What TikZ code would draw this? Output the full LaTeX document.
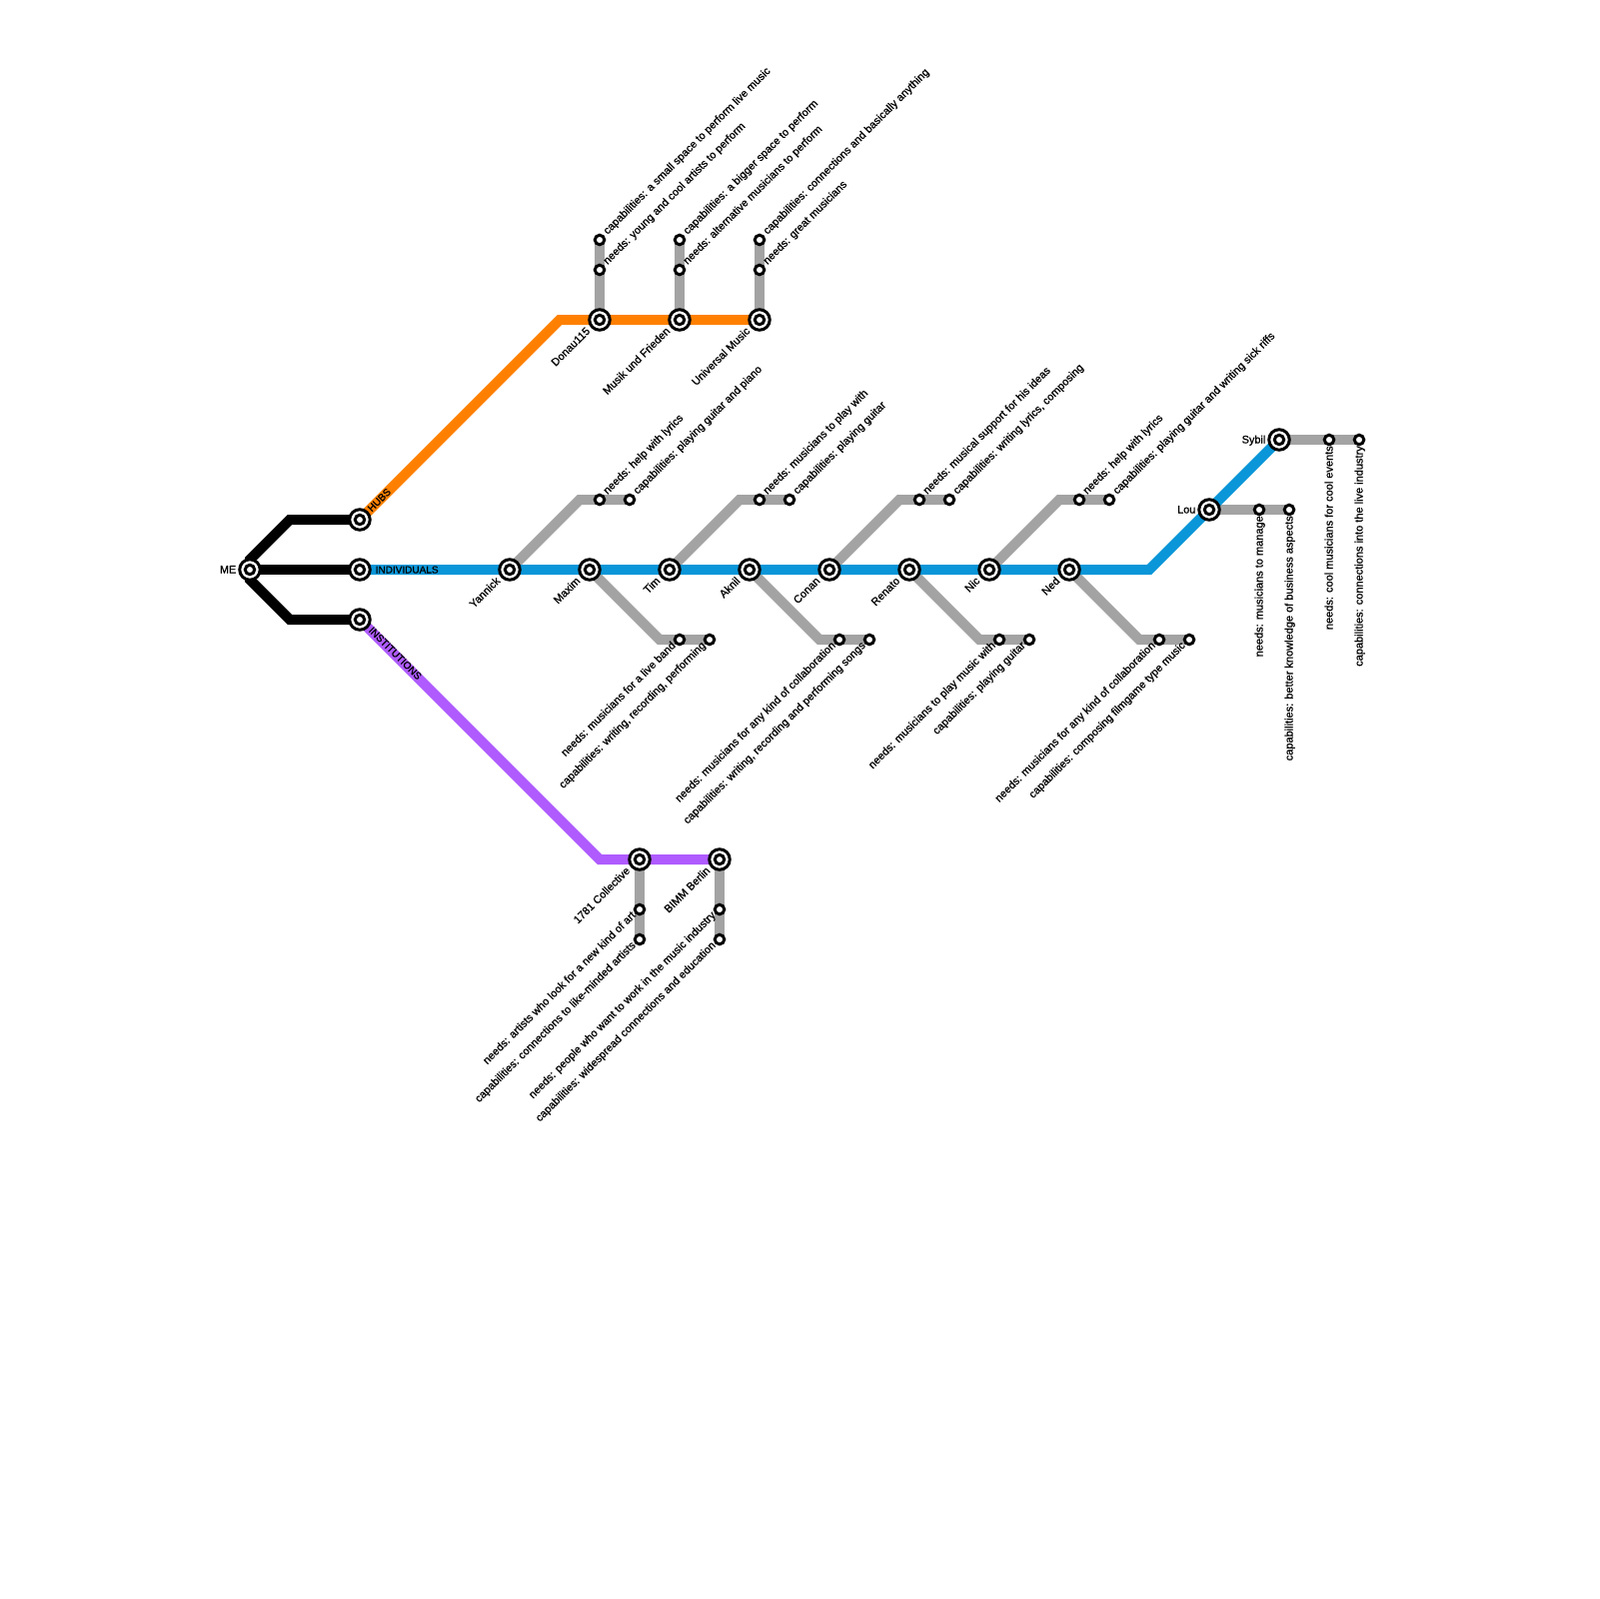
\documentclass[tikz,border=0pt]{standalone}
\usepackage{fontspec}
\setmainfont[FakeBold=0.8]{Liberation Sans}
\usetikzlibrary{backgrounds}
\tikzset{
  station/.style={circle,draw=black,fill=white,line width=0.3mm,minimum size=2.05mm,inner sep=0pt,outer sep=0pt,
    path picture={\draw[line width=0.3mm] (path picture bounding box.center) circle (0.47mm);}},
  substop/.style={circle,draw=black,fill=white,line width=0.3mm,minimum size=0.95mm,inner sep=0pt,outer sep=0pt},
  railline/.style={line width=1mm,miter limit=10},
  greyline/.style={railline,draw=railgrey},
  txt/.style={inner sep=0pt,text=black,font=\fontsize{3.1}{3.5}\selectfont},
  capslabel/.style={txt,font=\fontsize{2.85}{3.5}\selectfont},
  uplabel/.style={txt,anchor=base west,xshift=0.75mm,yshift=0.45mm,rotate=45},
  downlabel/.style={txt,anchor=base east,xshift=-0.3mm,yshift=-0.6mm,rotate=45},
  namelabel/.style={txt,anchor=base east,xshift=-0.85mm,yshift=-1.15mm,rotate=45},
  vertlabel/.style={txt,font=\fontsize{3.13}{3.5}\selectfont,anchor=base east,xshift=0.35mm,yshift=-0.55mm,rotate=90},
  sidelabel/.style={txt,anchor=base east,xshift=-1.3mm,yshift=-0.35mm},
}
\definecolor{railgrey}{HTML}{A3A3A3}
\definecolor{railorange}{HTML}{FF8000}
\definecolor{railblue}{HTML}{0A96D8}
\definecolor{railpurple}{HTML}{AF5BFF}
\begin{document}
\begin{tikzpicture}[x=0.1mm,y=-0.1mm]
    \useasboundingbox (0,0) rectangle (1600,1600);

    % start and the three branches
    \node[station] (me) at (250,570) {};
    \node[station] (hubs) at (360,520) {};
    \node[station] (individuals) at (360,570) {};
    \node[station] (institutions) at (360,620) {};
    \coordinate (meup) at (250,560);
    \coordinate (medown) at (250,580);
    \coordinate (hubsturn) at (290,520);
    \coordinate (instturn) at (290,620);
    \node[sidelabel] (melabel) at (me) {ME};
    \node[capslabel,anchor=base west,xshift=1.15mm,yshift=0.7mm,rotate=45] (hubslabel) at (hubs) {HUBS};
    \node[capslabel,anchor=base west,xshift=1.5mm,yshift=-0.35mm] (indlabel) at (individuals) {INDIVIDUALS};
    \node[capslabel,anchor=base west,xshift=0.8mm,yshift=-1.1mm,rotate=-45] (instlabel) at (institutions) {INSTITUTIONS};

    % hubs
    \coordinate (orangeturn) at (560,320);
    \node[station] (donau) at (600,320) {};
    \node[station] (musik) at (680,320) {};
    \node[station] (universal) at (760,320) {};
    \node[namelabel] (donaulabel) at (donau) {Donau115};
    \node[namelabel] (musiklabel) at (musik) {Musik und Frieden};
    \node[namelabel] (universallabel) at (universal) {Universal Music};
    \node[substop] (donauneeds) at (600,270) {};
    \node[substop] (donaucaps) at (600,240) {};
    \node[substop] (musikneeds) at (680,270) {};
    \node[substop] (musikcaps) at (680,240) {};
    \node[substop] (universalneeds) at (760,270) {};
    \node[substop] (universalcaps) at (760,240) {};
    \node[uplabel] (donauneedstext) at (donauneeds) {needs: young and cool artists to perform};
    \node[uplabel] (donaucapstext) at (donaucaps) {capabilities: a small space to perform live music};
    \node[uplabel] (musikneedstext) at (musikneeds) {needs: alternative musicians to perform};
    \node[uplabel] (musikcapstext) at (musikcaps) {capabilities: a bigger space to perform};
    \node[uplabel] (universalneedstext) at (universalneeds) {needs: great musicians};
    \node[uplabel] (universalcapstext) at (universalcaps) {capabilities: connections and basically anything};

    % individuals
    \node[station] (yannick) at (510,570) {};
    \node[station] (maxim) at (590,570) {};
    \node[station] (tim) at (670,570) {};
    \node[station] (aknil) at (750,570) {};
    \node[station] (conan) at (830,570) {};
    \node[station] (renato) at (910,570) {};
    \node[station] (nic) at (990,570) {};
    \node[station] (ned) at (1070,570) {};
    \node[station] (lou) at (1210,510) {};
    \node[station] (sybil) at (1280,440) {};
    \coordinate (blueturn) at (1150,570);
    \node[namelabel] (yannicklabel) at (yannick) {Yannick};
    \node[namelabel] (maximlabel) at (maxim) {Maxim};
    \node[namelabel] (timlabel) at (tim) {Tim};
    \node[namelabel] (akniltext) at (aknil) {Aknil};
    \node[namelabel] (conanlabel) at (conan) {Conan};
    \node[namelabel] (renatolabel) at (renato) {Renato};
    \node[namelabel] (niclabel) at (nic) {Nic};
    \node[namelabel] (nedlabel) at (ned) {Ned};
    \node[sidelabel] (loulabel) at (lou) {Lou};
    \node[sidelabel] (sybillabel) at (sybil) {Sybil};

    \coordinate (yannickturn) at (580,500);
    \node[substop] (yannickneeds) at (600,500) {};
    \node[substop] (yannickcaps) at (630,500) {};
    \node[uplabel] (yannickneedstext) at (yannickneeds) {needs: help with lyrics};
    \node[uplabel] (yannickcapstext) at (yannickcaps) {capabilities: playing guitar and piano};

    \coordinate (maximturn) at (660,640);
    \node[substop] (maximneeds) at (680,640) {};
    \node[substop] (maximcaps) at (710,640) {};
    \node[downlabel] (maximneedstext) at (maximneeds) {needs: musicians for a live band};
    \node[downlabel] (maximcapstext) at (maximcaps) {capabilities: writing, recording, performing};

    \coordinate (timturn) at (740,500);
    \node[substop] (timneeds) at (760,500) {};
    \node[substop] (timcaps) at (790,500) {};
    \node[uplabel] (timneedstext) at (timneeds) {needs: musicians to play with};
    \node[uplabel] (timcapstext) at (timcaps) {capabilities: playing guitar};

    \coordinate (aknilturn) at (820,640);
    \node[substop] (aknilneeds) at (840,640) {};
    \node[substop] (aknilcaps) at (870,640) {};
    \node[downlabel] (aknilneedstext) at (aknilneeds) {needs: musicians for any kind of collaboration};
    \node[downlabel] (aknilcapstext) at (aknilcaps) {capabilities: writing, recording and performing songs};

    \coordinate (conanturn) at (900,500);
    \node[substop] (conanneeds) at (920,500) {};
    \node[substop] (conancaps) at (950,500) {};
    \node[uplabel] (conanneedstext) at (conanneeds) {needs: musical support for his ideas};
    \node[uplabel] (conancapstext) at (conancaps) {capabilities: writing lyrics, composing};

    \coordinate (renatoturn) at (980,640);
    \node[substop] (renatoneeds) at (1000,640) {};
    \node[substop] (renatocaps) at (1030,640) {};
    \node[downlabel] (renatoneedstext) at (renatoneeds) {needs: musicians to play music with};
    \node[downlabel] (renatocapstext) at (renatocaps) {capabilities: playing guitar};

    \coordinate (nicturn) at (1060,500);
    \node[substop] (nicneeds) at (1080,500) {};
    \node[substop] (niccaps) at (1110,500) {};
    \node[uplabel] (nicneedstext) at (nicneeds) {needs: help with lyrics};
    \node[uplabel] (niccapstext) at (niccaps) {capabilities: playing guitar and writing sick riffs};

    \coordinate (nedturn) at (1140,640);
    \node[substop] (nedneeds) at (1160,640) {};
    \node[substop] (nedcaps) at (1190,640) {};
    \node[downlabel] (nedneedstext) at (nedneeds) {needs: musicians for any kind of collaboration};
    \node[downlabel] (nedcapstext) at (nedcaps) {capabilities: composing filmgame type music};

    \node[substop] (louneeds) at (1260,510) {};
    \node[substop] (loucaps) at (1290,510) {};
    \node[vertlabel] (louneedstext) at (louneeds) {needs: musicians to manage};
    \node[vertlabel] (loucapstext) at (loucaps) {capabilities: better knowledge of business aspects};

    \node[substop] (sybilneeds) at (1330,440) {};
    \node[substop] (sybilcaps) at (1360,440) {};
    \node[vertlabel] (sybilneedstext) at (sybilneeds) {needs: cool musicians for cool events};
    \node[vertlabel] (sybilcapstext) at (sybilcaps) {capabilities: connections into the live industry};

    % institutions
    \coordinate (purpleturn) at (600,860);
    \node[station] (collective) at (640,860) {};
    \node[station] (bimm) at (720,860) {};
    \node[namelabel] (collectivelabel) at (collective) {1781 Collective};
    \node[namelabel] (bimmlabel) at (bimm) {BIMM Berlin};
    \node[substop] (collectiveneeds) at (640,910) {};
    \node[substop] (collectivecaps) at (640,940) {};
    \node[substop] (bimmneeds) at (720,910) {};
    \node[substop] (bimmcaps) at (720,940) {};
    \node[downlabel] (collectiveneedstext) at (collectiveneeds) {needs: artists who look for a new kind of art};
    \node[downlabel] (collectivecapstext) at (collectivecaps) {capabilities: connections to like-minded artists};
    \node[downlabel] (bimmneedstext) at (bimmneeds) {needs: people who want to work in the music industry};
    \node[downlabel] (bimmcapstext) at (bimmcaps) {capabilities: widespread connections and education};

    % all lines go behind the stops
    \begin{scope}[on background layer]
        \draw[greyline] (donau.center) -- (donaucaps.center);
        \draw[greyline] (musik.center) -- (musikcaps.center);
        \draw[greyline] (universal.center) -- (universalcaps.center);
        \draw[greyline] (yannick.center) -- (yannickturn) -- (yannickcaps.center);
        \draw[greyline] (maxim.center) -- (maximturn) -- (maximcaps.center);
        \draw[greyline] (tim.center) -- (timturn) -- (timcaps.center);
        \draw[greyline] (aknil.center) -- (aknilturn) -- (aknilcaps.center);
        \draw[greyline] (conan.center) -- (conanturn) -- (conancaps.center);
        \draw[greyline] (renato.center) -- (renatoturn) -- (renatocaps.center);
        \draw[greyline] (nic.center) -- (nicturn) -- (niccaps.center);
        \draw[greyline] (ned.center) -- (nedturn) -- (nedcaps.center);
        \draw[greyline] (lou.center) -- (loucaps.center);
        \draw[greyline] (sybil.center) -- (sybilcaps.center);
        \draw[greyline] (collective.center) -- (collectivecaps.center);
        \draw[greyline] (bimm.center) -- (bimmcaps.center);

        \draw[railline,railorange] (hubs.center) -- (orangeturn) -- (universal.center);
        \draw[railline,railblue] (individuals.center) -- (blueturn) -- (sybil.center);
        \draw[railline,railpurple] (institutions.center) -- (purpleturn) -- (bimm.center);

        \draw[railline,black] (me.center) -- (meup) -- (hubsturn) -- (hubs.center);
        \draw[railline,black] (me.center) -- (individuals.center);
        \draw[railline,black] (me.center) -- (medown) -- (instturn) -- (institutions.center);
    \end{scope}
\end{tikzpicture}
\end{document}
